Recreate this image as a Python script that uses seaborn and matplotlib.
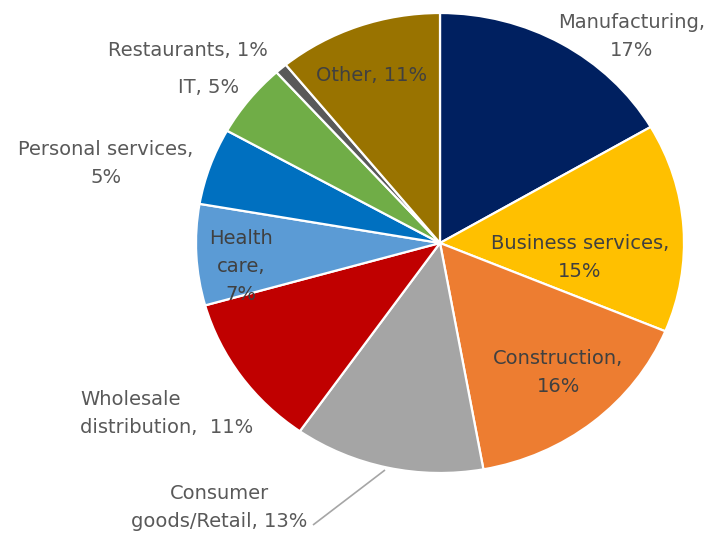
import matplotlib
matplotlib.use("Agg")
import matplotlib.pyplot as plt
import seaborn as sns

# slice values (% of firms), clockwise from 12 o'clock
SECTORS = [
    "Manufacturing",
    "Business services",
    "Construction",
    "Consumer goods/Retail",
    "Wholesale distribution",
    "Health care",
    "Personal services",
    "IT",
    "Restaurants",
    "Other",
]
SHARES = [16.6, 14.7, 15.9, 12.6, 10.9, 7.1, 5.4, 5.2, 0.8, 10.9]

# label text as it is wrapped on the chart
LABEL_TEXT = [
    "Manufacturing,\n{}%",
    "Business services,\n{}%",
    "Construction,\n{}%",
    "Consumer\ngoods/Retail, {}%",
    "Wholesale\ndistribution,  {}%",
    "Health\ncare,\n{}%",
    "Personal services,\n{}%",
    "IT, {}%",
    "Restaurants, {}%",
    "Other, {}%",
]

COLORS = ["#002060", "#FFC000", "#ED7D31", "#A5A5A5", "#C00000",
          "#5B9BD5", "#0070C0", "#70AD47", "#595959", "#997300"]

# label anchor points in pie units (radius 1)
LABEL_XY = [(0.785, 0.90), (0.574, -0.065), (0.484, -0.565), (-0.905, -1.148),
            (-1.475, -0.74), (-0.816, -0.10), (-1.37, 0.345), (-0.95, 0.674),
            (-1.035, 0.835), (-0.279, 0.73)]
LABEL_HA = ["center"] * 4 + ["left"] + ["center"] * 5
INSIDE = [False, True, True, False, False, True, False, False, False, True]

if __name__ == "__main__":
    sns.set_theme(style="white")
    plt.rcParams["font.family"] = ["DejaVu Sans"]

    fig = plt.figure(figsize=(7.14, 5.36), dpi=100)
    ax = fig.add_axes([0, 0, 1, 1])

    ax.pie(SHARES, colors=COLORS, startangle=90, counterclock=False,
           wedgeprops=dict(edgecolor="white", linewidth=1.6))

    # slightly wider than tall, like the original
    rx, ry = 244.0, 230.0
    cx, cy = 440.0, 243.0
    ax.set_aspect("auto")
    ax.set_xlim(-cx / rx, (714 - cx) / rx)
    ax.set_ylim(-(536 - cy) / ry, cy / ry)
    ax.axis("off")

    for txt, val, (x, y), ha, inside in zip(LABEL_TEXT, SHARES, LABEL_XY, LABEL_HA, INSIDE):
        ax.text(x, y, txt.format(int(round(val))), ha=ha, va="center", fontsize=14,
                color="#404040" if inside else "#595959",
                linespacing=1.6, multialignment=ha)

    # leader line for the consumer goods slice
    ax.plot([(385 - cx) / rx, (313 - cx) / rx], [(cy - 470) / ry, (cy - 525) / ry],
            color="#A6A6A6", lw=1.2, solid_capstyle="butt")

    fig.savefig("out.png", dpi=100, facecolor="white")
    plt.close(fig)
